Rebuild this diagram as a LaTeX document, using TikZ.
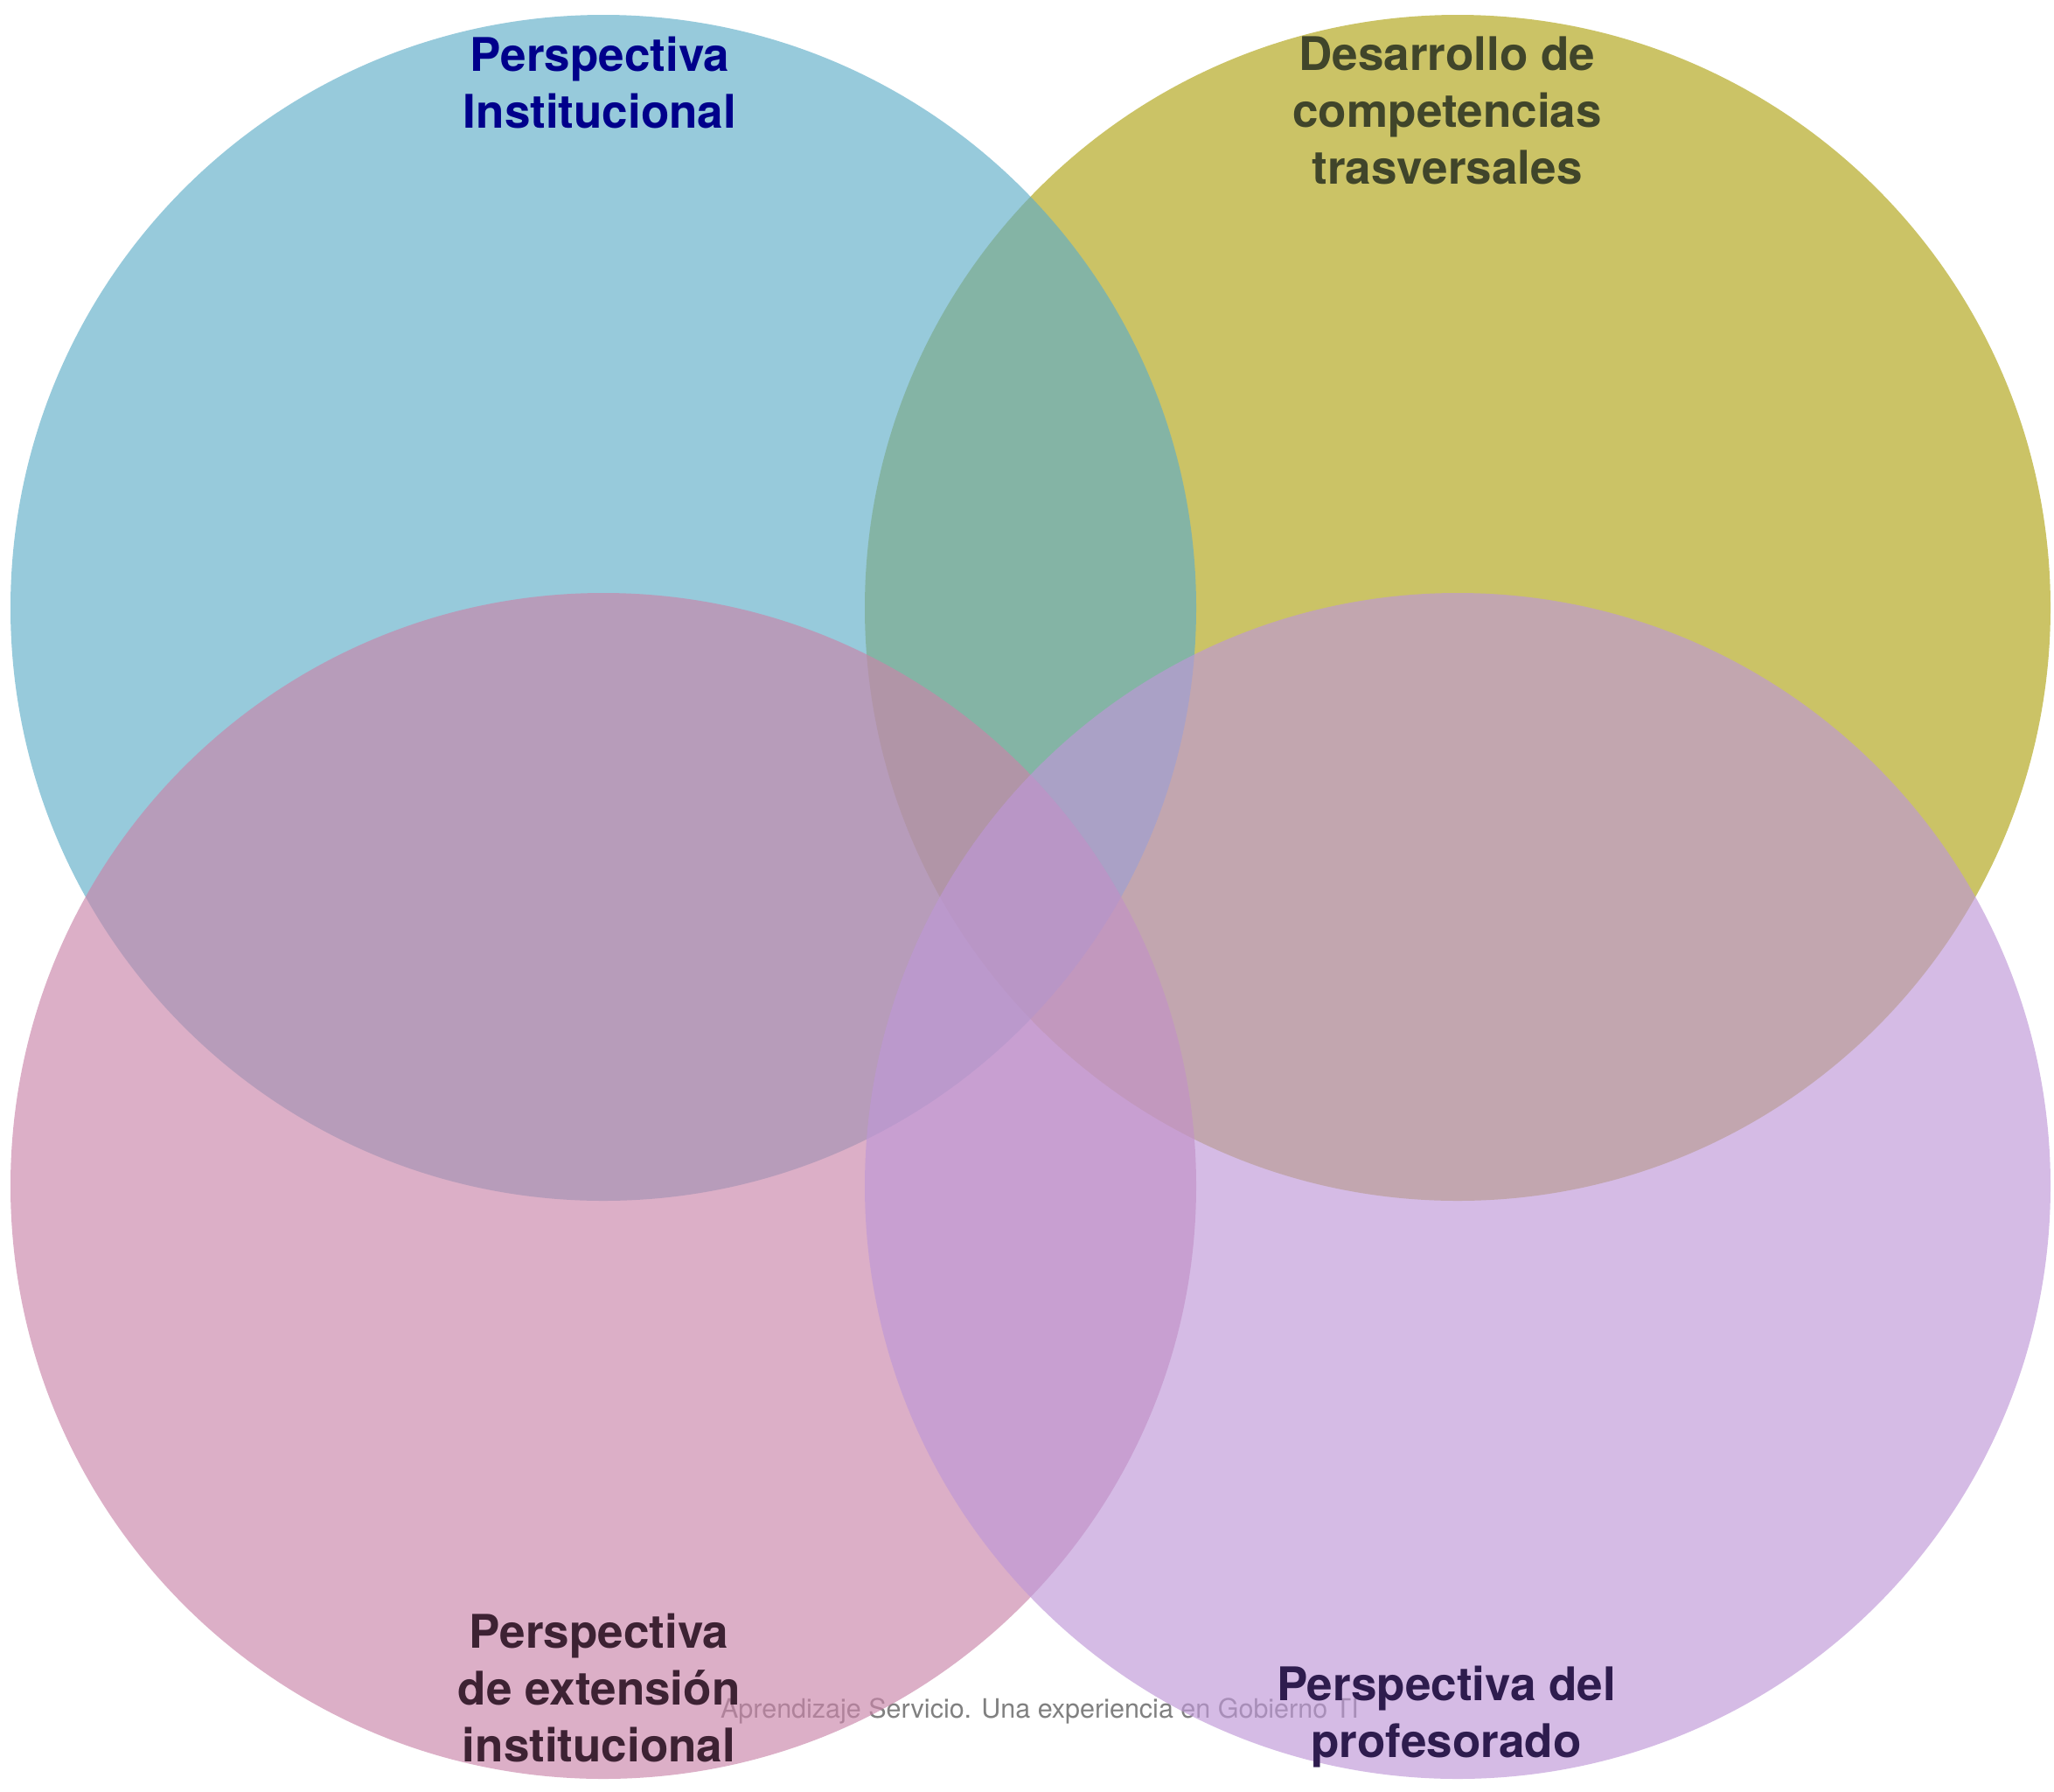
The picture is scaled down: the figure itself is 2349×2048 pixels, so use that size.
\documentclass[tikz,border=0pt]{standalone}
\usepackage{fontspec}
\setmainfont{TeX Gyre Heros}
\definecolor{cblue}{RGB}{95,173,200}
\definecolor{colive}{RGB}{175,163,20}
\definecolor{cpink}{RGB}{201,132,169}
\definecolor{clav}{RGB}{190,151,215}
\definecolor{tblue}{RGB}{0,0,139}
\definecolor{tolive}{RGB}{64,69,42}
\definecolor{tpink}{RGB}{61,34,51}
\definecolor{tlav}{RGB}{46,28,78}
\tikzset{
  setcircle/.style={fill opacity=0.65, draw=none},
  setlabel/.style={font=\bfseries\fontsize{53}{65}\selectfont, align=center, inner sep=0pt},
  caption/.style={font=\fontsize{30.5}{36}\selectfont, text=gray, inner sep=0pt}
}
\begin{document}
\begin{tikzpicture}[x=1pt,y=-1pt]
\useasboundingbox (0,0) rectangle (2349,2048);
\node[caption, anchor=base] (cap) at (1189,1964) {Aprendizaje Servicio. Una experiencia en Gobierno TI};
\fill[setcircle, fill=colive] (1667,695) circle[radius=678];
\fill[setcircle, fill=cblue] (690,695) circle[radius=678];
\fill[setcircle, fill=cpink] (690,1356) circle[radius=678];
\fill[setcircle, fill=clav] (1667,1356) circle[radius=678];
\node[setlabel, text=tblue, anchor=north] (l1) at (686,42) {Perspectiva\\Institucional};
\node[setlabel, text=tolive, anchor=north] (l2) at (1655,42) {Desarrollo de\\competencias\\trasversales};
\node[setlabel, text=tpink, anchor=south] (l3) at (685,2015) {Perspectiva\\de extensión\\institucional};
\node[setlabel, text=tlav, anchor=south] (l4) at (1654,2021) {Perspectiva del\\profesorado};
\end{tikzpicture}
\end{document}
